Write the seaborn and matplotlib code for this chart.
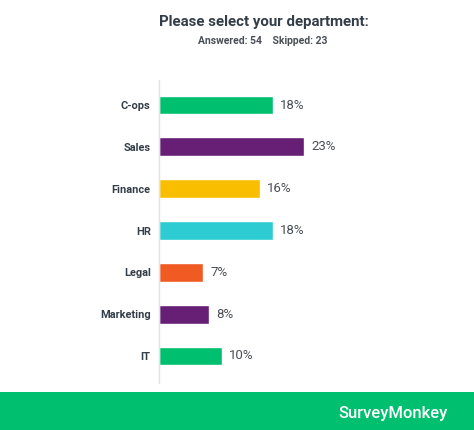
import seaborn as sns
import matplotlib.pyplot as plt
import pandas as pd
from matplotlib.patches import Rectangle

# survey answers, percent of respondents
departments = ["C-ops", "Sales", "Finance", "HR", "Legal", "Marketing", "IT"]
percents = [18, 23, 16, 18, 7, 8, 10]
bar_colors = ["#00BF6F", "#671E75", "#F9BE00", "#2DCCD3", "#F05B24", "#671E75", "#00BF6F"]
answered = 54
skipped = 23

sns.set_style("white")
plt.rcParams["font.family"] = ["Roboto", "DejaVu Sans"]

df = pd.DataFrame({"dept": departments, "pct": percents})

fig = plt.figure(figsize=(4.74, 4.30), dpi=100)
ax = fig.add_axes([0.3354, 0.109, 0.60, 0.705])

sns.barplot(
    data=df,
    x="pct",
    y="dept",
    hue="dept",
    palette=bar_colors,
    saturation=1,
    orient="h",
    width=0.45,
    legend=False,
    ax=ax,
)

ax.set_xlim(0, 284 / 6.3)
ax.set_ylim(6.65, -0.6)
ax.set_xlabel("")
ax.set_ylabel("")
ax.set_xticks([])
for side in ["top", "right", "bottom"]:
    ax.spines[side].set_visible(False)
ax.spines["left"].set_color("#e3e3e3")
ax.spines["left"].set_linewidth(1)
ax.tick_params(axis="y", length=0, pad=6)
for lbl in ax.get_yticklabels():
    lbl.set_fontweight("bold")
    lbl.set_fontsize(7.9)
    lbl.set_color("#333e48")

for container in ax.containers:
    ax.bar_label(container, fmt="%d%%", padding=5, fontsize=9.5, color="#4a4f55")

fig.text(0.557, 0.948, "Please select your department:", ha="center", va="center",
         fontsize=10.8, fontweight="bold", color="#333e48")
fig.text(0.555, 0.905, f"Answered: {answered}    Skipped: {skipped}", ha="center", va="center",
         fontsize=7.5, fontweight="bold", color="#4a4f55")

# footer band
fig.patches.append(Rectangle((0, 0), 1, 38 / 430, transform=fig.transFigure,
                             facecolor="#00BF6F", edgecolor="none", zorder=0))
fig.text(0.945, 0.038, "SurveyMonkey", ha="right", va="center",
         fontsize=12, fontweight="medium", color="white")

fig.savefig("out.png", dpi=100)
